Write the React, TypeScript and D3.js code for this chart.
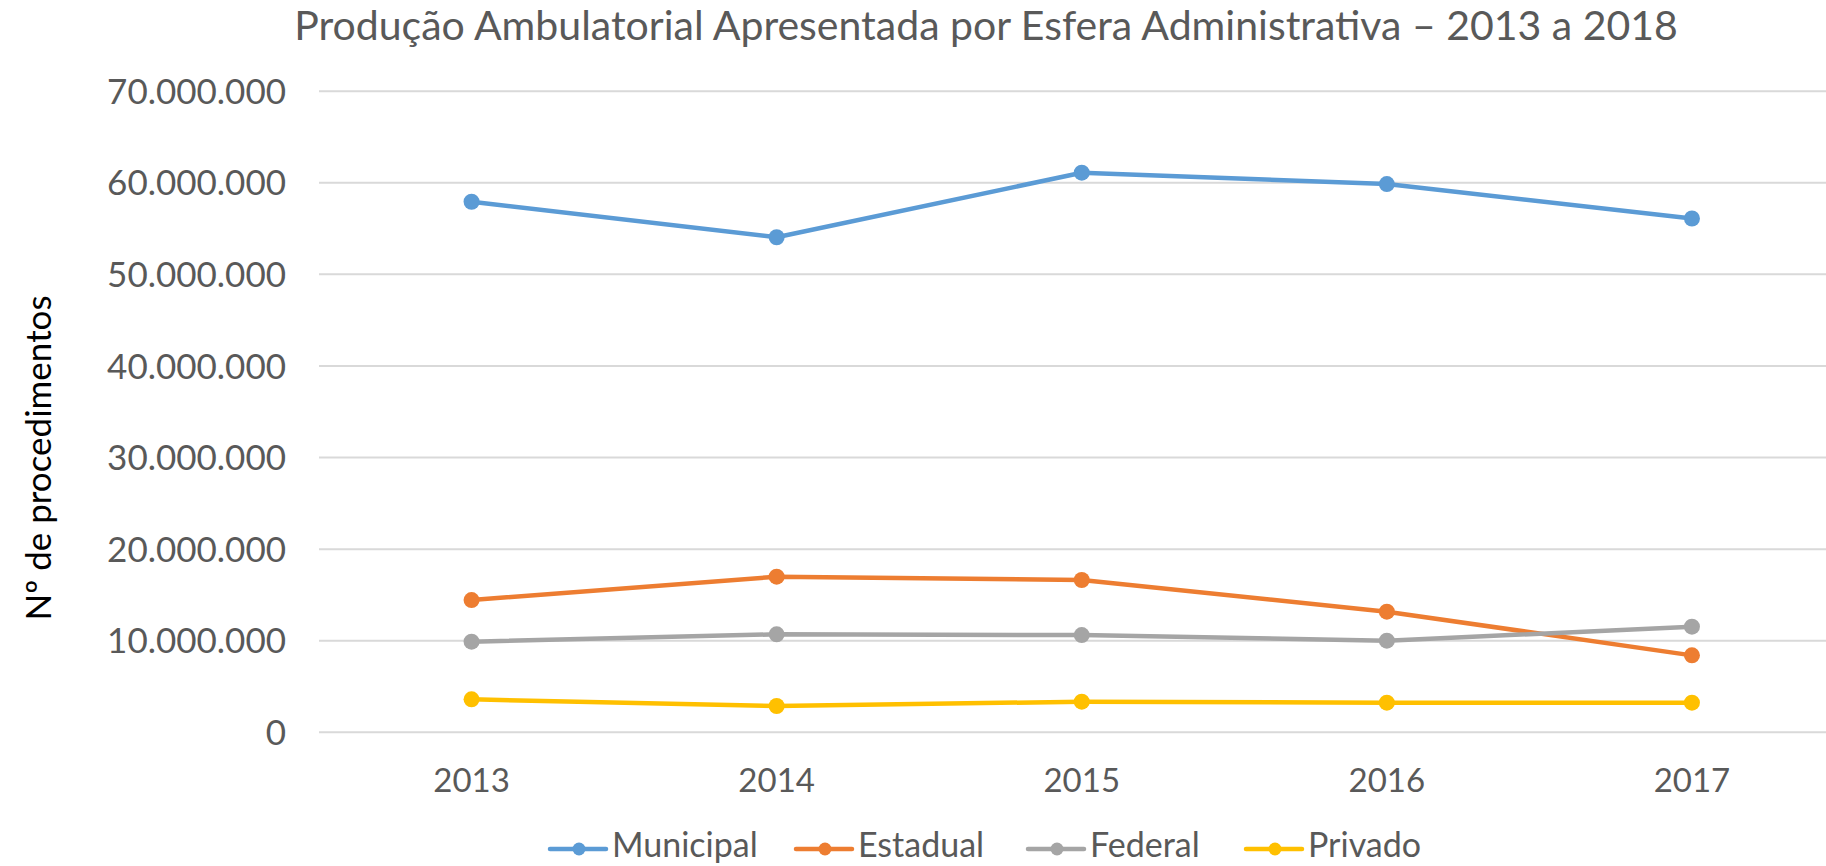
import React from "react";
import * as d3 from "d3";

const years = ["2013", "2014", "2015", "2016", "2017"];
const municipal = [57.93e6, 54.05e6, 61.1e6, 59.86e6, 56.1e6];
const estadual = [14.44e6, 16.99e6, 16.63e6, 13.17e6, 8.4e6];
const federal = [9.9e6, 10.7e6, 10.62e6, 10.0e6, 11.53e6];
const privado = [3.6e6, 2.87e6, 3.34e6, 3.23e6, 3.23e6];
const yTicks = [0, 10e6, 20e6, 30e6, 40e6, 50e6, 60e6, 70e6];
const seriesNames = ["Municipal", "Estadual", "Federal", "Privado"];
const seriesColors = ["#5B9BD5", "#ED7D31", "#A5A5A5", "#FFC000"];
const title = "Produção Ambulatorial Apresentada por Esfera Administrativa – 2013 a 2018";
const yTitle = "Nº de procedimentos";

const W = 1826;
const H = 866;
const FONT = "Lato, 'Open Sans', sans-serif";

export default function App() {
  const allSeries = [municipal, estadual, federal, privado];
  const x = d3.scaleBand<string>().domain(years).range([319, 1844.5]);
  const y = d3.scaleLinear().domain([0, 70e6]).range([732.3, 91.2]);
  const fmt = (v: number) => d3.format(",")(v).replace(/,/g, ".");
  const cx = (d: string) => (x(d) ?? 0) + x.bandwidth() / 2;
  const line = d3
    .line<number>()
    .x((_, i) => cx(years[i]))
    .y((v) => y(v));

  const legendX = [550, 796, 1028, 1246];
  const legendY = 849;

  return (
    <svg width={W} height={H} style={{ position: "absolute", left: 0, top: 0, background: "#fff" }}>
      <rect x={0} y={0} width={W} height={H} fill="#fff" />
      <text x={986} y={40} textAnchor="middle" fontFamily={FONT} fontSize={41} fill="#595959">
        {title}
      </text>
      {yTicks.map((t) => (
        <g key={t}>
          <line x1={319} x2={W} y1={y(t)} y2={y(t)} stroke="#D9D9D9" strokeWidth={2} />
          <text
            x={286}
            y={y(t)}
            dy="0.36em"
            textAnchor="end"
            fontFamily={FONT}
            fontSize={35}
            fill="#595959"
          >
            {fmt(t)}
          </text>
        </g>
      ))}
      <text
        transform={`translate(51,458) rotate(-90)`}
        textAnchor="middle"
        fontFamily={FONT}
        fontSize={35}
        fill="#000"
      >
        {yTitle}
      </text>
      {years.map((yr) => (
        <text
          key={yr}
          x={cx(yr)}
          y={780.5}
          dy="0.36em"
          textAnchor="middle"
          fontFamily={FONT}
          fontSize={33}
          fill="#595959"
        >
          {yr}
        </text>
      ))}
      {allSeries.map((s, si) => (
        <g key={si}>
          <path d={line(s) ?? ""} fill="none" stroke={seriesColors[si]} strokeWidth={4.5} strokeLinejoin="round" strokeLinecap="round" />
          {s.map((v, i) => (
            <circle key={i} cx={cx(years[i])} cy={y(v)} r={8} fill={seriesColors[si]} />
          ))}
        </g>
      ))}
      {seriesNames.map((n, i) => (
        <g key={n} transform={`translate(${legendX[i]},${legendY})`}>
          <line x1={0} x2={56} y1={0} y2={0} stroke={seriesColors[i]} strokeWidth={4.5} strokeLinecap="round" />
          <circle cx={29} cy={0} r={6.5} fill={seriesColors[i]} />
          <text x={62} y={8} fontFamily={FONT} fontSize={34} fill="#595959">
            {n}
          </text>
        </g>
      ))}
    </svg>
  );
}
